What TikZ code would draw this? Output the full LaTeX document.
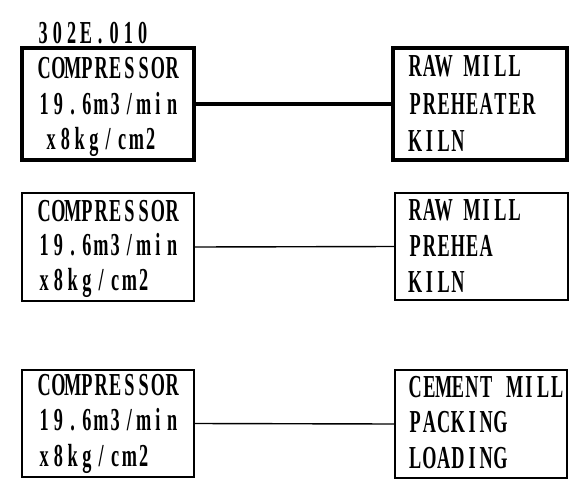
\documentclass[tikz,border=0pt]{standalone}
\usepackage{fontspec}
\setmainfont{Liberation Serif}[FakeStretch=0.57]
\ExplSyntaxOn
\NewDocumentCommand\mono{m}{\str_map_inline:nn {#1} {\makebox[14.2pt]{##1}}}
\ExplSyntaxOff
\begin{document}
\begin{tikzpicture}[x=1pt,y=-1pt,
  thinbox/.style={draw,line width=1.4pt,fill=none,inner sep=0pt},
  thickbox/.style={draw,line width=3.2pt,fill=none,inner sep=0pt},
  lbl/.style={anchor=base west,inner sep=0pt,font=\fontsize{32}{36}\selectfont\bfseries},
  thinline/.style={line width=1.4pt},
  thickline/.style={line width=3.4pt}]
\useasboundingbox (0,0) rectangle (587,493);
% row 1
\node[thickbox,minimum width=172pt,minimum height=112pt] (L1) at (108,104) {};
\node[thickbox,minimum width=174pt,minimum height=112pt] (R1) at (480,104) {};
\draw[thickline] (L1.east) -- (R1.west);
\node[lbl] (tag) at (36,43) {\mono{302E.010}};
\node[lbl] (L1a) at (37,78) {\mono{COMPRESSOR}};
\node[lbl] (L1b) at (37,114) {\mono{19.6m3/min}};
\node[lbl] (L1c) at (44,149) {\mono{x8kg/cm2}};
\node[lbl] (R1a) at (408,76) {\mono{RAW MILL}};
\node[lbl] (R1b) at (408,114) {\mono{PREHEATER}};
\node[lbl] (R1c) at (408,151) {\mono{KILN}};
% row 2
\node[thinbox,minimum width=172pt,minimum height=108pt] (L2) at (108,247) {};
\node[thinbox,minimum width=173pt,minimum height=107pt] (R2) at (481.5,246.5) {};
\draw[thinline] (L2.east) -- (R2.west);
\node[lbl] (L2a) at (37,221) {\mono{COMPRESSOR}};
\node[lbl] (L2b) at (37,255) {\mono{19.6m3/min}};
\node[lbl] (L2c) at (37,290) {\mono{x8kg/cm2}};
\node[lbl] (R2a) at (408,220) {\mono{RAW MILL}};
\node[lbl] (R2b) at (408,256) {\mono{PREHEA}};
\node[lbl] (R2c) at (408,292) {\mono{KILN}};
% row 3
\node[thinbox,minimum width=172pt,minimum height=107pt] (L3) at (108,423.5) {};
\node[thinbox,minimum width=172pt,minimum height=108pt] (R3) at (481,424) {};
\draw[thinline] (L3.east) -- (R3.west);
\node[lbl] (L3a) at (37,395) {\mono{COMPRESSOR}};
\node[lbl] (L3b) at (37,430) {\mono{19.6m3/min}};
\node[lbl] (L3c) at (37,466) {\mono{x8kg/cm2}};
\node[lbl] (R3a) at (408,397) {\mono{CEMENT MILL}};
\node[lbl] (R3b) at (408,432) {\mono{PACKING}};
\node[lbl] (R3c) at (408,468) {\mono{LOADING}};
\end{tikzpicture}
\end{document}
